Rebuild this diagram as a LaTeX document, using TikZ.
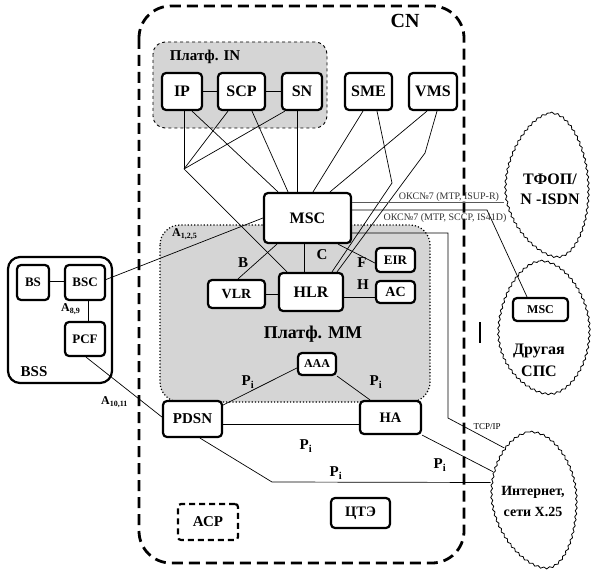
\documentclass[tikz,border=0pt]{standalone}
\usepackage{fontspec}
\setmainfont{Liberation Serif}
\usetikzlibrary{shapes.geometric,decorations.pathmorphing}
\newcommand\fsz[2]{\fontsize{#1}{#2}\selectfont}
\begin{document}
\begin{tikzpicture}[x=1pt,y=-1pt,
  box/.style={draw, line width=2.2pt, rounded corners=4pt, fill=white,
    font=\bfseries\fsz{16}{16}, inner sep=0pt},
  conn/.style={line width=0.7pt},
  lbl/.style={font=\bfseries\fsz{15}{15}, inner sep=0pt},
  sublbl/.style={font=\bfseries\fsz{12}{12}, inner sep=0pt},
  cloudline/.style={line width=0.8pt, line join=round, decorate,
    decoration={snake, amplitude=0.9pt, segment length=6pt}},
  anchorshape/.style={ellipse, inner sep=0pt},
  plat/.style={fill=gray!33, rounded corners=#1},
]
\useasboundingbox (0,0) rectangle (594,572);
% CN region
\draw[line width=2.8pt, dash pattern=on 11pt off 6pt, rounded corners=32pt] (139,6) rectangle (464,563);
\node[lbl, font=\bfseries\fsz{20}{20}] (CN) at (405,21) {CN};
% platforms
\draw[plat=12pt, dashed, line width=0.9pt] (153,42) rectangle (327,128);
\node[lbl] (platIN) at (205,57) {Платф. IN};
\draw[plat=20pt, dotted, line width=1.2pt] (160,225) rectangle (430,402);
\node[lbl, font=\bfseries\fsz{18}{18}] (platMM) at (313,334) {Платф. MM};
% boxes
\node[box, minimum width=40pt, minimum height=37pt] (IP) at (182,91.5) {IP};
\node[box, minimum width=47pt, minimum height=37pt] (SCP) at (241.5,91.5) {SCP};
\node[box, minimum width=40pt, minimum height=37pt] (SN) at (302,91.5) {SN};
\node[box, minimum width=47pt, minimum height=37pt] (SME) at (368.5,91.5) {SME};
\node[box, minimum width=48pt, minimum height=37pt] (VMS) at (433,91.5) {VMS};
\node[box, minimum width=87pt, minimum height=50pt] (MSC) at (307.5,218) {MSC};
\node[box, minimum width=57pt, minimum height=28pt, font=\bfseries\fsz{14}{14}] (VLR) at (236.5,294) {VLR};
\node[box, minimum width=64pt, minimum height=38pt] (HLR) at (311,292) {HLR};
\node[box, minimum width=39pt, minimum height=24pt, font=\bfseries\fsz{13}{13}] (EIR) at (395.5,260) {EIR};
\node[box, minimum width=39pt, minimum height=22pt, font=\bfseries\fsz{14}{14}] (AC) at (395.5,292) {AC};
\node[box, minimum width=38pt, minimum height=22pt, font=\bfseries\fsz{12}{12}] (AAA) at (317,364) {AAA};
\node[box, minimum width=59pt, minimum height=36pt, font=\bfseries\fsz{15}{15}] (PDSN) at (192.5,419) {PDSN};
\node[box, minimum width=61pt, minimum height=33pt, font=\bfseries\fsz{14.5}{15}] (HA) at (390.5,417.5) {HA};
\node[box, minimum width=59pt, minimum height=30pt, font=\bfseries\fsz{14.5}{15}] (CTE) at (360.5,513) {ЦТЭ};
\node[box, dash pattern=on 6pt off 4pt, rounded corners=3pt, minimum width=60pt, minimum height=36pt, font=\bfseries\fsz{15}{15}] (ACR) at (208,522) {АСР};
% BSS
\draw[line width=2.2pt, rounded corners=12pt] (8,257) rectangle (112,383);
\node[lbl] (BSSl) at (34,372) {BSS};
\node[box, minimum width=32pt, minimum height=35pt, font=\bfseries\fsz{13}{13}] (BS) at (33,282.5) {BS};
\node[box, minimum width=40pt, minimum height=35pt, font=\bfseries\fsz{13}{13}] (BSC) at (85,282.5) {BSC};
\node[box, minimum width=40pt, minimum height=34pt, font=\bfseries\fsz{13}{13}] (PCF) at (85,339) {PCF};
% clouds (outlines)
\draw[cloudline] (550,113) .. controls (568,113) and (587,150) .. (587,190)
  .. controls (587,228) and (572,257) .. (556,257)
  .. controls (538,257) and (504,225) .. (504,188)
  .. controls (504,150) and (532,113) .. (550,113);
\draw[cloudline] (540,261) .. controls (562,261) and (588,295) .. (588,330)
  .. controls (588,368) and (566,394) .. (548,394)
  .. controls (528,394) and (497,368) .. (497,333)
  .. controls (497,296) and (520,261) .. (540,261);
\draw[cloudline] (530,432) .. controls (552,432) and (575,465) .. (575,500)
  .. controls (575,538) and (562,568) .. (545,568)
  .. controls (522,568) and (490,530) .. (490,493)
  .. controls (490,460) and (510,432) .. (530,432);
% cloud anchors and texts
\node[anchorshape, minimum width=84pt, minimum height=144pt] (T1) at (546,185) {};
\node[anchorshape, minimum width=91pt, minimum height=133pt] (S2) at (543,328) {};
\node[anchorshape, minimum width=85pt, minimum height=136pt] (I) at (532,500) {};
\node[lbl, font=\bfseries\fsz{16}{20}, align=center] (T1t) at (550,189) {ТФОП/\\N -ISDN};
\node[box, minimum width=55pt, minimum height=23pt, font=\bfseries\fsz{12}{12}] (MSC2) at (540.5,309.5) {MSC};
\node[lbl, font=\bfseries\fsz{16}{22}, align=center] (S2t) at (539,360) {Другая\\СПС};
\node[lbl, font=\bfseries\fsz{14}{21}, align=center] (It) at (533,502) {Интернет,\\сети X.25};
% connectors in IN / MSC area
\coordinate (J) at (184,169);
\coordinate (B1) at (392,183);
\coordinate (B2) at (425,153);
\draw[conn] (IP.east) -- (SCP.west);
\draw[conn] (SCP.east) -- (SN.west);
\draw[conn] ([xshift=2pt]IP.south) -- (J);
\draw[conn] ([xshift=-13.5pt]SCP.south) -- (J);
\draw[conn] ([xshift=4pt]SN.south west) -- (J);
\draw[conn] (J) -- ([xshift=-24pt]HLR.north);
\draw[conn] ([xshift=10pt]IP.south) -- ([xshift=-29.5pt]MSC.north);
\draw[conn] ([xshift=10.5pt]SCP.south) -- ([xshift=-19.5pt]MSC.north);
\draw[conn] ([xshift=-5pt]SN.south) -- ([xshift=-10.5pt]MSC.north);
\draw[conn] ([xshift=-5.5pt]SME.south) -- ([xshift=5.5pt]MSC.north);
\draw[conn] ([xshift=-6pt]VMS.south) -- ([xshift=22.5pt]MSC.north);
\draw[conn] ([xshift=8.5pt]SME.south) -- (B1) -- ([xshift=21pt]HLR.north);
\draw[conn] ([xshift=4pt]VMS.south) -- (B2) -- ([xshift=26pt]HLR.north);
% MM platform
\draw[conn] ([xshift=-3.5pt]MSC.south) -- ([xshift=-7pt]HLR.north);
\draw[conn] ([xshift=-30.5pt]MSC.south) -- ([xshift=1.5pt]VLR.north);
\draw[conn] ([xshift=30.5pt]MSC.south) -- ([yshift=-3pt]EIR.west);
\coordinate (v1) at (VLR.east);
\draw[conn] (v1) -- (v1 -| HLR.west);
\coordinate (h1) at ([yshift=-5pt]HLR.east);
\draw[conn] (h1) -- (h1 -| AC.west);
\node[lbl] (Bl) at (243,263) {B};
\node[lbl] (Cl) at (322,255) {C};
\node[lbl] (Fl) at (362,263) {F};
\node[lbl] (Hl) at (363,285) {H};
% BSS links
\draw[conn] ([yshift=3pt]BSC.east) -- (MSC.west);
\coordinate (bs1) at ([yshift=1.5pt]BS.east);
\draw[conn] (bs1) -- (bs1 -| BSC.west);
\draw[conn] ([xshift=3pt]BSC.south) -- ([xshift=3pt]PCF.north);
\draw[conn] ([xshift=1pt]PCF.south) -- ([yshift=2pt]PDSN.west);
\node[sublbl, anchor=west] (A125) at (172,234) {A\textsubscript{1,2,5}};
\node[sublbl, anchor=west] (A89) at (61,309) {A\textsubscript{8,9}};
\node[sublbl, anchor=west] (A1011) at (101,402) {A\textsubscript{10,11}};
% packet part
\draw[conn] ([yshift=14pt]PDSN.east) -- ([yshift=-4pt]AAA.west);
\draw[conn] (AAA.south east) -- ([xshift=-20.5pt]HA.north);
\coordinate (p1) at ([yshift=-5pt]PDSN.east);
\draw[conn] (p1) -- (p1 -| HA.west);
\coordinate (K1) at (272,482);
\draw[conn] ([xshift=7.5pt]PDSN.south) -- (K1) -- (I.157);
\draw[conn] (HA.south east) -- (I.144);
\node[lbl] (Pi1) at (248,382) {P\textsubscript{i}};
\node[lbl] (Pi2) at (376,382) {P\textsubscript{i}};
\node[lbl] (Pi3) at (306,446) {P\textsubscript{i}};
\node[lbl] (Pi4) at (336,473) {P\textsubscript{i}};
\node[lbl] (Pi5) at (440,465) {P\textsubscript{i}};
% signalling links
\coordinate (o1) at ([yshift=16pt]MSC.east);
\draw[conn, gray!70!black] (o1) -- (o1 -| T1.west);
\node[font=\fsz{10}{10}, text=black!80, inner sep=0pt, anchor=base] (ok1) at (449,200) {ОКС№7 (MTP, ISUP-R)};
\coordinate (o2) at ([yshift=8pt]MSC.east);
\coordinate (o2b) at (487,210);
\draw[conn] (o2) -- (o2b) -- ([xshift=-13.5pt]MSC2.north);
\node[font=\fsz{10}{10}, text=black!80, inner sep=0pt, anchor=base] (ok2) at (445,221) {ОКС№7 (MTP, SCCP, IS41D)};
\coordinate (t1) at ([yshift=-15pt]MSC.east);
\coordinate (t2) at (448,233);
\coordinate (t3) at (448,418);
\draw[conn] (t1) -- (t2) -- (t3) -- (I.118);
\node[font=\fsz{9}{9}, inner sep=0pt] (tcp) at (487,427) {TCP/IP};
\draw[line width=2.5pt] (480,322) -- (480,343);
\end{tikzpicture}
\end{document}
